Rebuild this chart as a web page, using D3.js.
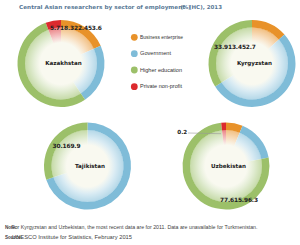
<!DOCTYPE html>
<html><head><meta charset="utf-8">
<script src="https://cdn.jsdelivr.net/npm/d3@7"></script>
<style>body{margin:0;background:#fff}svg{display:block}</style>
</head><body>
<svg id="c" width="300" height="245"></svg>
<script>
// ---- data ----
const sectors = ["Business enterprise", "Government", "Higher education", "Private non-profit"];
const sectorColors = ["#e8922a", "#7fbcd8", "#9cc069", "#dc2a2e"];
const countries = ["Kazakhstan", "Kyrgyzstan", "Tajikistan", "Uzbekistan"];
const kazakhstan = [18.3, 22.4, 53.6, 5.7];
const kyrgyzstan = [13.4, 52.7, 33.9, 0];
const tajikistan = [0, 69.9, 30.1, 0];
const uzbekistan = [6.3, 15.9, 77.6, 0.2];
const labelOrder = [[3, 0, 1, 2], [2, 0, 1], [2, 1], [2, 1, 0]];
const title = ["Central Asian researchers by sector of employment", "(%)", "(HC), 2013"];
const note = ["Note:", "For Kyrgyzstan and Uzbekistan, the most recent data are for 2011. Data are unavailable for Turkmenistan."];
const source = ["Source:", "UNESCO Institute for Statistics, February 2015"];

const values = [kazakhstan, kyrgyzstan, tajikistan, uzbekistan];
const svg = d3.select("#c");
const color = d3.scaleOrdinal().domain(sectors).range(sectorColors);

// layout
const centers = [[61, 63.5], [252, 63.5], [87.5, 166], [226, 166]];
const labelPos = [[-11, -33.5], [-38, -14.5], [-35, -18], [-6, 36]];
const R = 43.5, R1 = 36, R0 = 20;

const defs = svg.append("defs");
const g = defs.append("radialGradient").attr("id", "fade");
g.append("stop").attr("offset", "0%").attr("stop-color", "#f9f9f0").attr("stop-opacity", 1);
g.append("stop").attr("offset", "58%").attr("stop-color", "#f9f9f0").attr("stop-opacity", 1);
g.append("stop").attr("offset", "78%").attr("stop-color", "#ffffff").attr("stop-opacity", 0.7);
g.append("stop").attr("offset", "100%").attr("stop-color", "#ffffff").attr("stop-opacity", 0.42);

const pie = d3.pie().sort(null).value(d => d > 0 ? Math.max(d, 1.8) : 0);
const arcOuter = d3.arc().innerRadius(R1).outerRadius(R);
const arcInner = d3.arc().innerRadius(R0).outerRadius(R1);

countries.forEach((name, ci) => {
  const [cx, cy] = centers[ci];
  const grp = svg.append("g").attr("transform", `translate(${cx},${cy})`);
  const arcs = pie(values[ci]);
  grp.selectAll("path.in").data(arcs).join("path").attr("class", "in")
    .attr("d", arcInner).attr("fill", (d, i) => color(sectors[i]));
  grp.append("circle").attr("r", R1).attr("fill", "url(#fade)");
  grp.selectAll("path.out").data(arcs).join("path").attr("class", "out")
    .attr("d", arcOuter).attr("fill", (d, i) => color(sectors[i]));
  grp.append("text").attr("x", 2.5).attr("y", 1.5).attr("text-anchor", "middle")
    .attr("font-family", "DejaVu Sans").attr("font-weight", "bold").attr("font-size", 5.6)
    .attr("fill", "#222").text(name);
  // value labels
  let order = labelOrder[ci];
  if (ci === 3) {
    grp.append("line").attr("x1", -38).attr("y1", -33).attr("x2", -5).attr("y2", -32.3)
      .attr("stroke", "#999").attr("stroke-width", 0.6);
    grp.append("text").attr("x", -48.7).attr("y", -32.5)
      .attr("font-family", "DejaVu Sans").attr("font-weight", "bold").attr("font-size", 5.6)
      .attr("fill", "#222").text(values[ci][3].toFixed(1));
  }
  const t = grp.append("text").attr("x", labelPos[ci][0]).attr("y", labelPos[ci][1])
    .attr("font-family", "DejaVu Sans").attr("font-weight", "bold").attr("font-size", 5.9)
    .attr("letter-spacing", -0.15).attr("fill", "#222");
  t.selectAll("tspan").data(order).join("tspan").text(i => values[ci][i].toFixed(1));
});

// legend
const legY = [37.3, 53.7, 70, 86.7];
const legW = [43, 31, 42, 42];
sectors.forEach((s, i) => {
  svg.append("circle").attr("cx", 134.3).attr("cy", legY[i]).attr("r", 3.4).attr("fill", color(s));
  svg.append("text").attr("x", 140).attr("y", legY[i] + 1.6)
    .attr("font-family", "Liberation Sans").attr("font-size", 4.6).attr("fill", "#333")
    .attr("textLength", legW[i]).attr("lengthAdjust", "spacingAndGlyphs").text(s);
});

// title
const tf = sel => sel.attr("font-family", "DejaVu Sans").attr("font-weight", "bold")
  .attr("font-size", 5.3).attr("fill", "#587895");
svg.append("text").attr("x", 19).attr("y", 9).call(tf).attr("textLength", 166)
  .attr("lengthAdjust", "spacingAndGlyphs").text(title[0]);
svg.append("text").attr("x", 180.5).attr("y", 9).call(tf).text(title[1]);
svg.append("text").attr("x", 189).attr("y", 9).call(tf).attr("textLength", 33)
  .attr("lengthAdjust", "spacingAndGlyphs").text(title[2]);

// footnotes
const ff = sel => sel.attr("font-family", "Liberation Sans").attr("font-size", 4.6).attr("fill", "#444");
svg.append("text").attr("x", 5).attr("y", 229.3).call(ff).attr("font-weight", "bold").text(note[0]);
svg.append("text").attr("x", 11.5).attr("y", 229.3).call(ff).attr("textLength", 246)
  .attr("lengthAdjust", "spacingAndGlyphs").text(note[1]);
svg.append("text").attr("x", 5).attr("y", 239.3).call(ff).attr("font-weight", "bold").text(source[0]);
svg.append("text").attr("x", 12).attr("y", 239.3).call(ff).attr("textLength", 120)
  .attr("lengthAdjust", "spacingAndGlyphs").text(source[1]);
</script>
</body></html>
